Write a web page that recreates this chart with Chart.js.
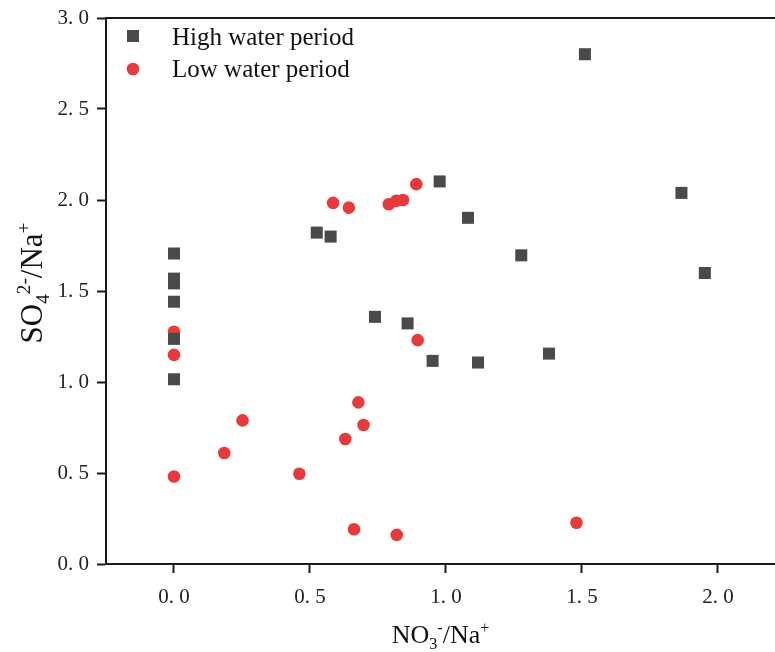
<!DOCTYPE html>
<html>
<head>
<meta charset="utf-8">
<script src="https://cdn.jsdelivr.net/npm/chart.js@4/dist/chart.umd.min.js"></script>
<style>
    html, body { margin: 0; padding: 0; background: #fff; }
</style>
</head>
<body>
<canvas id="ratioChart" width="775" height="652"></canvas>
<script>
// High water period: NO3-/Na+ (x) and SO4 2-/Na+ (y)
const highX = [0, 0, 0, 0, 0, 0, 0.525, 0.576, 0.739, 0.859, 0.951, 0.977, 1.081, 1.118, 1.277, 1.379, 1.511, 1.866, 1.952];
const highY = [1.706, 1.568, 1.542, 1.441, 1.237, 1.015, 1.821, 1.799, 1.358, 1.322, 1.116, 2.102, 1.902, 1.107, 1.696, 1.156, 2.801, 2.039, 1.599];

// Low water period
const lowX = [0, 0, 0, 0.185, 0.252, 0.461, 0.585, 0.643, 0.630, 0.662, 0.678, 0.697, 0.790, 0.817, 0.819, 0.842, 0.891, 0.896, 1.480];
const lowY = [1.276, 1.149, 0.481, 0.610, 0.789, 0.496, 1.984, 1.958, 0.687, 0.191, 0.888, 0.764, 1.977, 1.995, 0.160, 2.000, 2.087, 1.230, 0.227];

// Tick labels
const xTicks = [0, 0.5, 1.0, 1.5, 2.0];
const yTicks = [0, 0.5, 1.0, 1.5, 2.0, 2.5, 3.0];

const seriesNames = ['High water period', 'Low water period'];

const serif = '"Liberation Serif", "Times New Roman", serif';
const tickFont = { family: serif, size: 21 };
const fmt = (v) => v.toFixed(1).replace('.', '. ');

// Draw a label with sub/superscripts, centered on (0, 0) at its baseline
const drawRich = (ctx, parts, size) => {
    let total = 0;
    parts.forEach(p => {
        ctx.font = (p.s ? size * 0.62 : size) + 'px ' + serif;
        p.w = ctx.measureText(p.t).width;
        total += p.w;
    });
    let x = -total / 2;
    parts.forEach(p => {
        ctx.font = (p.s ? size * 0.62 : size) + 'px ' + serif;
        let dy = 0;
        if (p.s < 0) dy = size * 0.22;
        if (p.s > 0) dy = -size * 0.38;
        ctx.fillText(p.t, x, dy);
        x += p.w;
    });
}

// Top spine, axis titles and the legend inside the plot
const extrasPlugin = {
    id: 'extras',
    afterDraw(chart) {
        const { ctx, chartArea } = chart;
        ctx.save();

        // top spine
        ctx.strokeStyle = '#1a1a1a';
        ctx.lineWidth = 2;
        ctx.beginPath();
        ctx.moveTo(chartArea.left, chartArea.top);
        ctx.lineTo(chartArea.right, chartArea.top);
        ctx.stroke();

        // axis titles
        ctx.fillStyle = '#111';
        ctx.textBaseline = 'alphabetic';
        ctx.textAlign = 'left';

        ctx.save();
        ctx.translate((chartArea.left + chartArea.right) / 2, 643);
        drawRich(ctx, [{t: 'NO', s: 0}, {t: '3', s: -1}, {t: '-', s: 1}, {t: '/Na', s: 0}, {t: '+', s: 1}], 26);
        ctx.restore();

        ctx.save();
        ctx.translate(42, 283);
        ctx.rotate(-Math.PI / 2);
        drawRich(ctx, [{t: 'SO', s: 0}, {t: '4', s: -1}, {t: '2-', s: 1}, {t: '/Na', s: 0}, {t: '+', s: 1}], 31);
        ctx.restore();

        // legend
        chart.data.datasets.forEach((ds, i) => {
            const cx = chartArea.left + 27;
            const cy = chartArea.top + 18 + i * 33;
            ctx.fillStyle = ds.backgroundColor;
            ctx.beginPath();
            if (ds.pointStyle === 'rect') {
                const half = ds.pointRadius * Math.SQRT1_2;
                ctx.rect(cx - half, cy - half, half * 2, half * 2);
            } else {
                ctx.arc(cx, cy, ds.pointRadius, 0, Math.PI * 2);
            }
            ctx.fill();

            ctx.fillStyle = '#111';
            ctx.font = '25px ' + serif;
            ctx.fillText(ds.label, chartArea.left + 66, chartArea.top + 27 + i * 32);
        });

        ctx.restore();
    }
};

const ctx = document.getElementById('ratioChart').getContext('2d');

new Chart(ctx, {
    type: 'scatter',
    data: {
        datasets: [
            {
                label: seriesNames[0],
                data: highX.map((x, i) => ({ x: x, y: highY[i] })),
                pointStyle: 'rect',
                pointRadius: 8.5,
                borderWidth: 0,
                backgroundColor: '#4a4a4a'
            },
            {
                label: seriesNames[1],
                data: lowX.map((x, i) => ({ x: x, y: lowY[i] })),
                pointStyle: 'circle',
                pointRadius: 6.3,
                borderWidth: 0,
                backgroundColor: '#e8393d'
            }
        ]
    },
    options: {
        responsive: false,
        animation: false,
        layout: { autoPadding: false, padding: { top: 18, right: 0, bottom: 0, left: 0 } },
        plugins: {
            legend: { display: false },
            tooltip: { enabled: false }
        },
        scales: {
            x: {
                type: 'linear',
                min: -0.25,
                max: 2.21,
                afterBuildTicks: (scale) => { scale.ticks = xTicks.map(v => ({ value: v })); },
                afterFit: (scale) => {
                    scale.height = 88;
                    scale.paddingLeft = 0;
                    scale.paddingRight = 0;
                },
                grid: { drawOnChartArea: false, tickLength: 9, tickWidth: 2, tickColor: '#1a1a1a' },
                border: { color: '#1a1a1a', width: 2 },
                ticks: { font: tickFont, color: '#222', padding: 12, callback: (v) => fmt(v) }
            },
            y: {
                type: 'linear',
                min: 0,
                max: 3,
                afterBuildTicks: (scale) => { scale.ticks = yTicks.map(v => ({ value: v })); },
                afterFit: (scale) => {
                    scale.width = 106;
                    scale.paddingTop = 0;
                    scale.paddingBottom = 0;
                },
                grid: { drawOnChartArea: false, tickLength: 9, tickWidth: 2, tickColor: '#1a1a1a' },
                border: { color: '#1a1a1a', width: 2 },
                ticks: { font: tickFont, color: '#222', padding: 8, callback: (v) => fmt(v) }
            }
        }
    },
    plugins: [extrasPlugin]
});
</script>
</body>
</html>
